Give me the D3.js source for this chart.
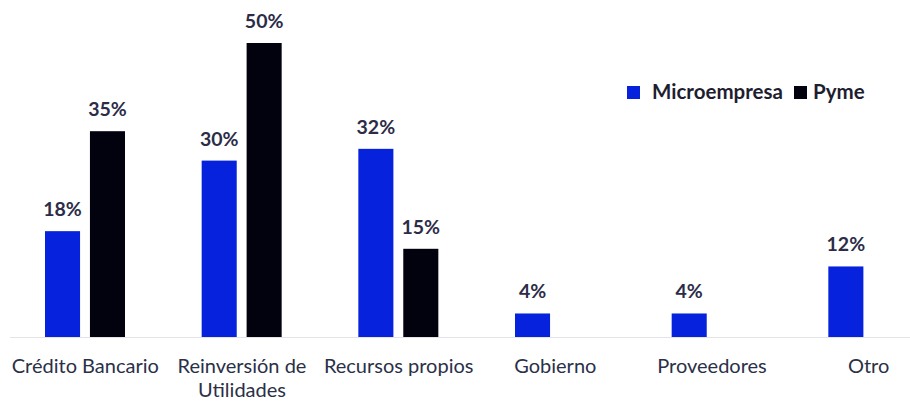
<!DOCTYPE html>
<html>
<head>
<meta charset="utf-8">
<script src="https://cdn.jsdelivr.net/npm/d3@7/dist/d3.min.js"></script>
<style>
  html, body { margin: 0; padding: 0; background: #ffffff; }
  svg { display: block; }
</style>
</head>
<body>
<svg id="chart" width="910" height="401"></svg>
<script>
// Fuentes de financiamiento por tipo de empresa (%)
const categories = ["Crédito Bancario", "Reinversión de Utilidades", "Recursos propios", "Gobierno", "Proveedores", "Otro"];
const categoryLines = [["Crédito Bancario"], ["Reinversión de", "Utilidades"], ["Recursos propios"], ["Gobierno"], ["Proveedores"], ["Otro"]];
const seriesNames = ["Microempresa", "Pyme"];
const microempresa = [18, 30, 32, 4, 4, 12];
const pyme = [35, 50, 15, null, null, null];
const seriesColors = ["#0622dc", "#02020e"];

const values = [microempresa, pyme];
const svg = d3.select("#chart");
const W = 910, H = 401;
const baseline = 337;
const fontFamily = "Lato, 'Open Sans', sans-serif";

const x = d3.scaleBand().domain(categories).range([7, 947]).padding(0);
const xInner = d3.scaleBand().domain(seriesNames)
  .range([38, 118]).paddingInner(0.22).paddingOuter(0);
const y = d3.scaleLinear().domain([0, 50]).range([baseline, 43]);

// baseline
svg.append("line")
  .attr("x1", 10).attr("x2", W)
  .attr("y1", baseline + 0.5).attr("y2", baseline + 0.5)
  .attr("stroke", "#e4e4e8").attr("stroke-width", 1);

const rows = [];
categories.forEach((c, i) => {
  seriesNames.forEach((s, j) => {
    const v = values[j][i];
    if (v !== null && v !== undefined) rows.push({ c, s, v, color: seriesColors[j] });
  });
});

const bars = svg.append("g");
bars.selectAll("rect").data(rows).join("rect")
  .attr("x", d => x(d.c) + xInner(d.s))
  .attr("y", d => y(d.v))
  .attr("width", xInner.bandwidth())
  .attr("height", d => baseline - y(d.v))
  .attr("fill", d => d.color);

// value labels
svg.append("g").selectAll("text").data(rows).join("text")
  .attr("x", d => x(d.c) + xInner(d.s) + xInner.bandwidth() / 2)
  .attr("y", d => y(d.v) - 15)
  .attr("text-anchor", "middle")
  .attr("font-family", fontFamily)
  .attr("font-weight", "bold")
  .attr("font-size", 19.5)
  .attr("fill", "#2c2c48")
  .text(d => d.v + "%");

// category labels
const catG = svg.append("g");
categories.forEach((c, i) => {
  const t = catG.append("text")
    .attr("x", x(c) + x.bandwidth() / 2)
    .attr("y", 373)
    .attr("text-anchor", "middle")
    .attr("font-family", fontFamily)
    .attr("font-size", 20)
    .attr("fill", "#2a3048");
  categoryLines[i].forEach((line, k) => {
    t.append("tspan")
      .attr("x", x(c) + x.bandwidth() / 2)
      .attr("dy", k === 0 ? 0 : 24)
      .text(line);
  });
});

// legend
const legendX = [627, 794];
const legend = svg.append("g");
seriesNames.forEach((s, j) => {
  legend.append("rect")
    .attr("x", legendX[j]).attr("y", 86)
    .attr("width", 13).attr("height", 13)
    .attr("fill", seriesColors[j]);
  legend.append("text")
    .attr("x", legendX[j] + 25 - (j === 1 ? 6 : 0))
    .attr("y", 99)
    .attr("font-family", fontFamily)
    .attr("font-weight", "bold")
    .attr("font-size", 20.5)
    .attr("fill", "#1e1e30")
    .text(s);
});
</script>
</body>
</html>
